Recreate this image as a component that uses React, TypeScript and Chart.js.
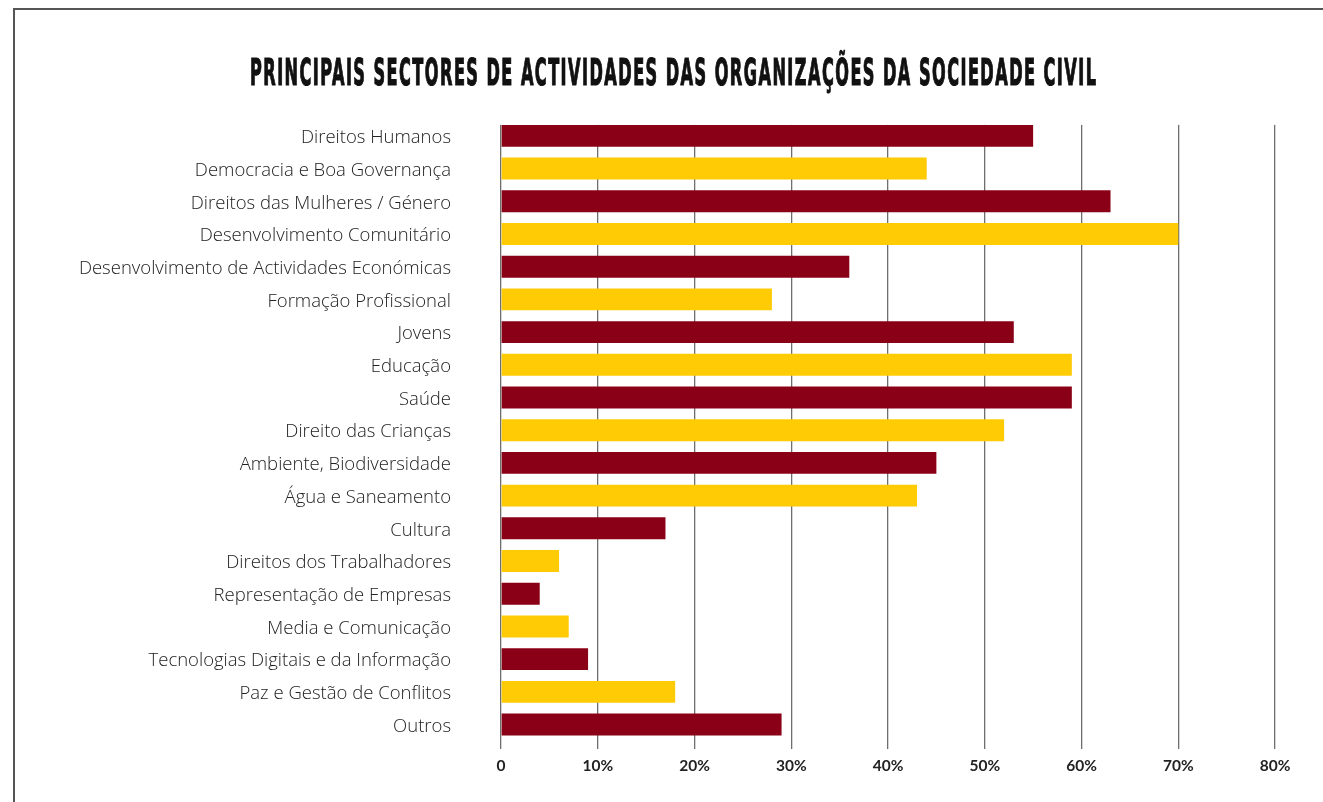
import React, { useEffect, useRef } from "react";
import { Chart, registerables } from "chart.js";

Chart.register(...registerables);

const TITLE = "PRINCIPAIS SECTORES DE ACTIVIDADES DAS ORGANIZAÇÕES DA SOCIEDADE CIVIL";

const categories = [
  "Direitos Humanos",
  "Democracia e Boa Governança",
  "Direitos das Mulheres / Género",
  "Desenvolvimento Comunitário",
  "Desenvolvimento de Actividades Económicas",
  "Formação Profissional",
  "Jovens",
  "Educação",
  "Saúde",
  "Direito das Crianças",
  "Ambiente, Biodiversidade",
  "Água e Saneamento",
  "Cultura",
  "Direitos dos Trabalhadores",
  "Representação de Empresas",
  "Media e Comunicação",
  "Tecnologias Digitais e da Informação",
  "Paz e Gestão de Conflitos",
  "Outros",
];

const values = [55, 44, 63, 70, 36, 28, 53, 59, 59, 52, 45, 43, 17, 6, 4, 7, 9, 18, 29];

const xTickValues = [0, 10, 20, 30, 40, 50, 60, 70, 80];
const xTickLabels = ["0", "10%", "20%", "30%", "40%", "50%", "60%", "70%", "80%"];

const RED = "#8a0016";
const YELLOW = "#ffcb05";

export default function App() {
  const canvasRef = useRef<HTMLCanvasElement | null>(null);

  useEffect(() => {
    document.body.style.overflow = "hidden";
    const canvas = canvasRef.current;
    if (!canvas) return;

    const titlePlugin = {
      id: "condensedTitle",
      afterDraw(chart: any) {
        const ctx = chart.ctx;
        ctx.save();
        const spacing = 3;
        ctx.font = 'bold 37px "DejaVu Sans Condensed", "DejaVu Sans", sans-serif';
        (ctx as any).letterSpacing = spacing + "px";
        const w = ctx.measureText(TITLE).width - spacing;
        const target = 846;
        const sx = target / w;
        ctx.translate(673, 84.5);
        ctx.scale(sx, 1);
        ctx.fillStyle = "#111";
        ctx.strokeStyle = "#111";
        ctx.lineWidth = 1.2;
        ctx.textAlign = "center";
        ctx.textBaseline = "alphabetic";
        ctx.fillText(TITLE, spacing / 2, 0);
        ctx.strokeText(TITLE, spacing / 2, 0);
        ctx.restore();
      },
    };

    // Trim grid lines so they start at the top of the first bar
    const gridTrim = {
      id: "gridTrim",
      beforeDatasetsDraw(chart: any) {
        const meta = chart.getDatasetMeta(0);
        const first = meta.data[0];
        if (!first) return;
        const props = first.getProps(["y", "height"], true);
        const barTop = props.y - props.height / 2;
        const { left, right, top } = chart.chartArea;
        const ctx = chart.ctx;
        ctx.save();
        ctx.fillStyle = "#ffffff";
        ctx.fillRect(left - 2, top - 1, right - left + 4, barTop - top + 1);
        ctx.restore();
      },
    };

    const chart = new Chart(canvas, {
      type: "bar",
      data: {
        labels: categories,
        datasets: [
          {
            data: values,
            backgroundColor: values.map((_, i) => (i % 2 === 0 ? RED : YELLOW)),
            borderWidth: 0,
            barPercentage: 0.67,
            categoryPercentage: 1,
          },
        ],
      },
      options: {
        indexAxis: "y",
        responsive: false,
        animation: false,
        layout: { padding: { top: 119.5, right: 48, bottom: 0, left: 0 } },
        plugins: {
          legend: { display: false },
          title: { display: false },
          tooltip: { enabled: false },
        },
        scales: {
          x: {
            type: "linear",
            min: 0,
            max: 80,
            afterFit(scale: any) {
              scale.height = 58.5;
            },
            afterBuildTicks(scale: any) {
              scale.ticks = xTickValues.map((v) => ({ value: v }));
            },
            grid: {
              display: true,
              drawTicks: true,
              tickLength: 8,
              color: "#6e6e6e",
              lineWidth: 1.3,
            },
            border: { display: false },
            ticks: {
              padding: 8,
              color: "#222",
              font: { family: "Lato, 'Open Sans', sans-serif", size: 15.5, weight: "bold" },
              callback: (_v: any, i: number) => xTickLabels[i],
              maxRotation: 0,
              autoSkip: false,
            },
          },
          y: {
            type: "category",
            afterFit(scale: any) {
              scale.width = 501;
            },
            grid: { display: false, drawTicks: false },
            border: { display: false },
            ticks: {
              padding: 50,
              labelOffset: 2,
              color: "#222",
              autoSkip: false,
              font: { family: "'Open Sans', Lato, sans-serif", size: 18.5, weight: 350 as any },
            },
          },
        },
      },
      plugins: [gridTrim, titlePlugin],
    });

    return () => {
      chart.destroy();
    };
  }, []);

  return (
    <div style={{ position: "fixed", left: 0, top: 0, width: 1323, height: 802, background: "#fff", overflow: "hidden" }}>
      <div
        style={{
          position: "absolute",
          left: 13,
          top: 8,
          width: 1400,
          height: 900,
          borderLeft: "2px solid #555",
          borderTop: "2px solid #555",
        }}
      />
      <canvas ref={canvasRef} width={1323} height={802} style={{ position: "absolute", left: 0, top: 0 }} />
    </div>
  );
}
